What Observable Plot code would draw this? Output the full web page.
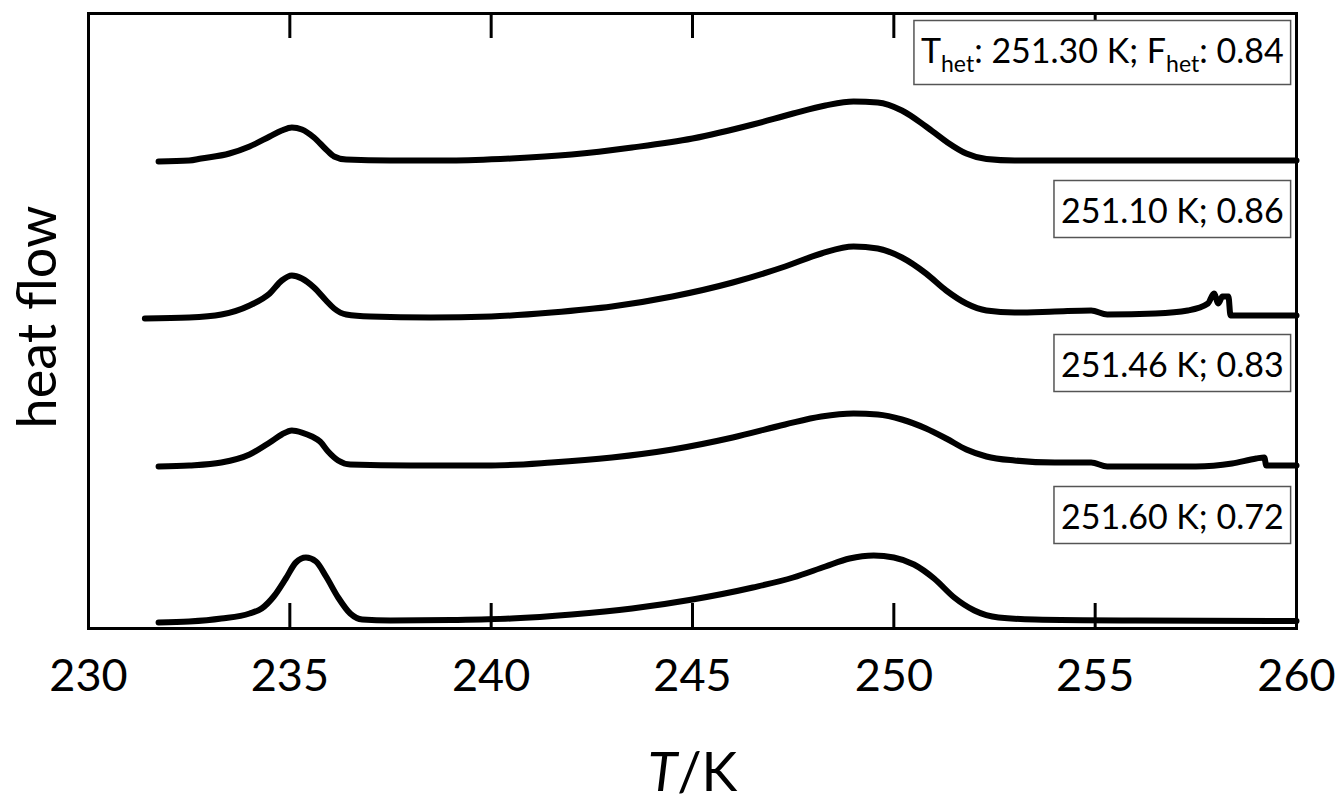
<!DOCTYPE html>
<html><head><meta charset="utf-8">
<script src="https://cdn.jsdelivr.net/npm/d3@7"></script>
<script src="https://cdn.jsdelivr.net/npm/@observablehq/plot@0.6"></script>
<style>body{margin:0;background:#fff;} svg{display:block}</style>
</head><body><div id="chart"></div>
<script>
// x axis
const xTicks = [230, 235, 240, 245, 250, 255, 260];
const innerTicks = [235, 240, 245, 250, 255];

// heat flow curves (arbitrary units, offset per run)
const T1  = [231.74,232.5,232.8,233.5,234.0,234.5,234.8,235.05,235.3,235.6,235.9,236.1,236.4,237.5,239.0,240.5,242.0,243.5,245.0,246.5,247.5,248.3,249.0,249.6,250.2,250.8,251.3,251.8,252.3,253.0,256.0,260.0];
const hf1 = [467,468,470,475,482,492,498,501,499,491,479,472,469,468,468,470,474,481,490,504,515,523,527,526,518,502,487,475,469.5,468,468,468];

const T2  = [231.4,232.5,233.3,234.0,234.5,234.8,235.05,235.3,235.6,235.9,236.1,236.4,237.0,238.5,240.0,241.5,243.0,244.5,246.0,247.3,248.2,249.0,249.6,250.2,250.8,251.3,251.8,252.3,253.0,254.0,254.9,255.3,256.5,257.3,257.8,257.95,258.06,258.16,258.31,258.36,260.0];
const hf2 = [310,311,314,323,335,348,353,350,341,328,320,314,312,311,312,316,322,332,346,362,375,382,380,371,355,338,325,318,316,317,318,314,315,318,325,335,325,332,332,313,313];

const T3  = [231.74,232.5,233.3,234.0,234.5,234.8,235.05,235.3,235.55,235.75,235.95,236.2,236.5,238.0,240.0,241.5,243.0,244.5,246.0,247.3,248.2,249.0,249.6,250.2,250.8,251.3,251.8,252.3,253.0,254.0,254.9,255.3,257.5,258.4,259.0,259.2,259.25,260.0];
const hf3 = [162,163,166,174,186,194,198,196,192,187,177,168,164,163,163,166,171,179,191,204,212,215,214,209,200,190,179,172,168,166,166,162,162,165,170,171,163,163];

const T4  = [231.74,232.5,233.3,234.0,234.3,234.6,234.9,235.15,235.4,235.65,235.9,236.2,236.5,236.8,237.5,239.0,240.5,242.0,243.5,245.0,246.5,247.5,248.3,248.9,249.5,250.0,250.5,251.0,251.5,252.0,252.6,253.5,256.0,260.0];
const hf4 = [6,7,10,15,20,32,50,66,71,67,52,31,15,9,8,8.5,10,14,20,29,41,51,62,70,73,71,64,50,31,18,11,9,8,7.5];

// annotations
const labelTexts = ["T_het: 251.30 K; F_het: 0.84", "251.10 K; 0.86", "251.46 K; 0.83", "251.60 K; 0.72"];
const labelY = [566, 406, 252, 100];
const labelT = 259.68;
const yLabel = "heat flow";
const xLabel = "T/K";

const rows = [];
[[T1, hf1], [T2, hf2], [T3, hf3], [T4, hf4]].forEach(([T, h], s) =>
  T.forEach((t, i) => rows.push({series: s, T: t, hf: h[i]})));
const labels = labelTexts.map((t, i) => ({text: t, y: labelY[i]}));

const chart = Plot.plot({
  width: 1338, height: 805,
  marginLeft: 88, marginRight: 42, marginTop: 13, marginBottom: 177,
  style: {fontFamily: "Lato, 'Open Sans', sans-serif", background: "white", color: "black"},
  x: {domain: [230, 260]},
  y: {domain: [0, 615], axis: null},
  marks: [
    Plot.line(rows, {x: "T", y: "hf", z: "series", stroke: "black", strokeWidth: 6, curve: "monotone-x", strokeLinejoin: "round"}),
    Plot.tickX(innerTicks, {x: d => d, insetTop: 590, stroke: "black", strokeWidth: 3}),
    Plot.tickX(innerTicks, {x: d => d, insetBottom: 590, stroke: "black", strokeWidth: 3}),
    Plot.frame({stroke: "black", strokeWidth: 3}),
    Plot.axisX({ticks: xTicks, tickSize: 0, tickPadding: 31, fontSize: 45, label: null}),
    Plot.text(labels, {x: () => labelT, y: "y", text: "text", textAnchor: "end", lineAnchor: "bottom", fontSize: 34}),
    Plot.text([yLabel], {text: d => d, frameAnchor: "left", textAnchor: "middle", rotate: -90, lineAnchor: "bottom", dx: -33, dy: -4, fontSize: 54}),
    Plot.text([xLabel], {text: d => d, frameAnchor: "bottom", textAnchor: "middle", lineAnchor: "bottom", dy: 162, fontSize: 54})
  ]
});
document.getElementById("chart").appendChild(chart);

const svg = d3.select(chart);
svg.selectAll("text").each(function () {
  const el = this;
  const txt = el.textContent;
  if (txt === xLabel) {
    d3.select(el).html('<tspan font-style="italic">T</tspan>/K');
  }
  if (labelTexts.includes(txt)) {
    if (txt.includes("_het")) {
      const parts = txt.split("_het");
      let html = "";
      parts.forEach((p, i) => {
        html += `<tspan${i > 0 ? ' dy="-9"' : ""}>${p}</tspan>`;
        if (i < parts.length - 1) html += '<tspan font-size="23" dy="9">het</tspan>';
      });
      d3.select(el).html(html);
    }
    const bb = el.getBBox();
    const padX = 7, padTop = 8, padBottom = 8;
    const rect = document.createElementNS("http://www.w3.org/2000/svg", "rect");
    rect.setAttribute("x", bb.x - padX);
    rect.setAttribute("y", bb.y - padTop);
    rect.setAttribute("width", bb.width + 2 * padX);
    rect.setAttribute("height", bb.height + padTop + padBottom);
    rect.setAttribute("fill", "white");
    rect.setAttribute("stroke", "#555");
    rect.setAttribute("stroke-width", "1.5");
    const tr = el.getAttribute("transform");
    if (tr) rect.setAttribute("transform", tr);
    el.parentNode.insertBefore(rect, el);
  }
});
</script>
</body></html>
